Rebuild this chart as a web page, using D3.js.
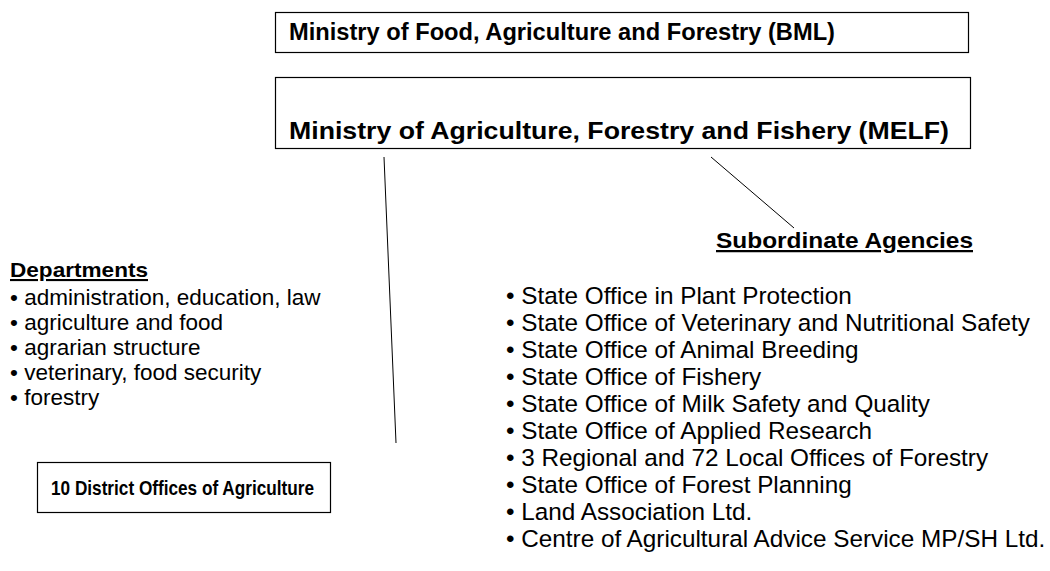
<!DOCTYPE html>
<html><head><meta charset="utf-8">
<script src="https://cdn.jsdelivr.net/npm/d3@7"></script>
<style>html,body{margin:0;padding:0;background:#fff;}svg{display:block;}</style>
</head><body>
<svg id="c" width="1050" height="571"></svg>
<script>
const ministryTop = "Ministry of Food, Agriculture and Forestry (BML)";
const ministryState = "Ministry of Agriculture, Forestry and Fishery (MELF)";
const districtOffices = "10 District Offices of Agriculture";
const departmentsTitle = "Departments";
const departments = ["administration, education, law","agriculture and food","agrarian structure","veterinary, food security","forestry"];
const agenciesTitle = "Subordinate Agencies";
const agencies = ["State Office in Plant Protection","State Office of Veterinary and Nutritional Safety","State Office of Animal Breeding","State Office of Fishery","State Office of Milk Safety and Quality","State Office of Applied Research","3 Regional and 72 Local Offices of Forestry","State Office of Forest Planning","Land Association Ltd.","Centre of Agricultural Advice Service MP/SH Ltd."];

const svg = d3.select("#c");
const font = "Liberation Sans, Arial, Helvetica, sans-serif";
const g = svg.append("g").attr("font-family", font).attr("fill","#000");

function fit(sel, w){ sel.attr("textLength", w).attr("lengthAdjust","spacingAndGlyphs"); }

// boxes
const boxes = [
  {t: ministryTop, x:275, y:12, w:693, h:40, tx:289, ty:40, fs:23, tw:546},
  {t: ministryState, x:275, y:77, w:695, h:71, tx:289, ty:139, fs:24.5, tw:660},
  {t: districtOffices, x:37, y:462, w:293, h:50, tx:51, ty:495, fs:20.5, tw:263}
];
boxes.forEach(b=>{
  g.append("rect").attr("x",b.x+0.5).attr("y",b.y+0.5).attr("width",b.w).attr("height",b.h)
    .attr("fill","#fff").attr("stroke","#000").attr("stroke-width",1.2);
  g.append("text").attr("x",b.tx).attr("y",b.ty).attr("font-size",b.fs).attr("font-weight","bold")
    .text(b.t).call(fit, b.tw);
});

// connector lines
g.append("line").attr("x1",384).attr("y1",157).attr("x2",396).attr("y2",443).attr("stroke","#000").attr("stroke-width",1);
g.append("line").attr("x1",711).attr("y1",157).attr("x2",794).attr("y2",228).attr("stroke","#000").attr("stroke-width",1);

// headings
g.append("text").attr("x",10).attr("y",277).attr("font-size",21).attr("font-weight","bold")
  .attr("text-decoration","underline").text(departmentsTitle).call(fit,138);
g.append("text").attr("x",716).attr("y",248).attr("font-size",22.5).attr("font-weight","bold")
  .attr("text-decoration","underline").text(agenciesTitle).call(fit,257);

// lists
const yDep = d3.scaleLinear().domain([0, departments.length-1]).range([305, 405]);
g.selectAll("text.dep").data(departments).join("text").attr("class","dep")
  .attr("x",10).attr("y",(d,i)=>yDep(i)).attr("font-size",22.5).text(d=>"\u2022 "+d);

const yAg = d3.scaleLinear().domain([0, agencies.length-1]).range([304, 547]);
g.selectAll("text.ag").data(agencies).join("text").attr("class","ag")
  .attr("x",506).attr("y",(d,i)=>yAg(i)).attr("font-size",24.3).text(d=>"\u2022 "+d);
</script>
</body></html>
